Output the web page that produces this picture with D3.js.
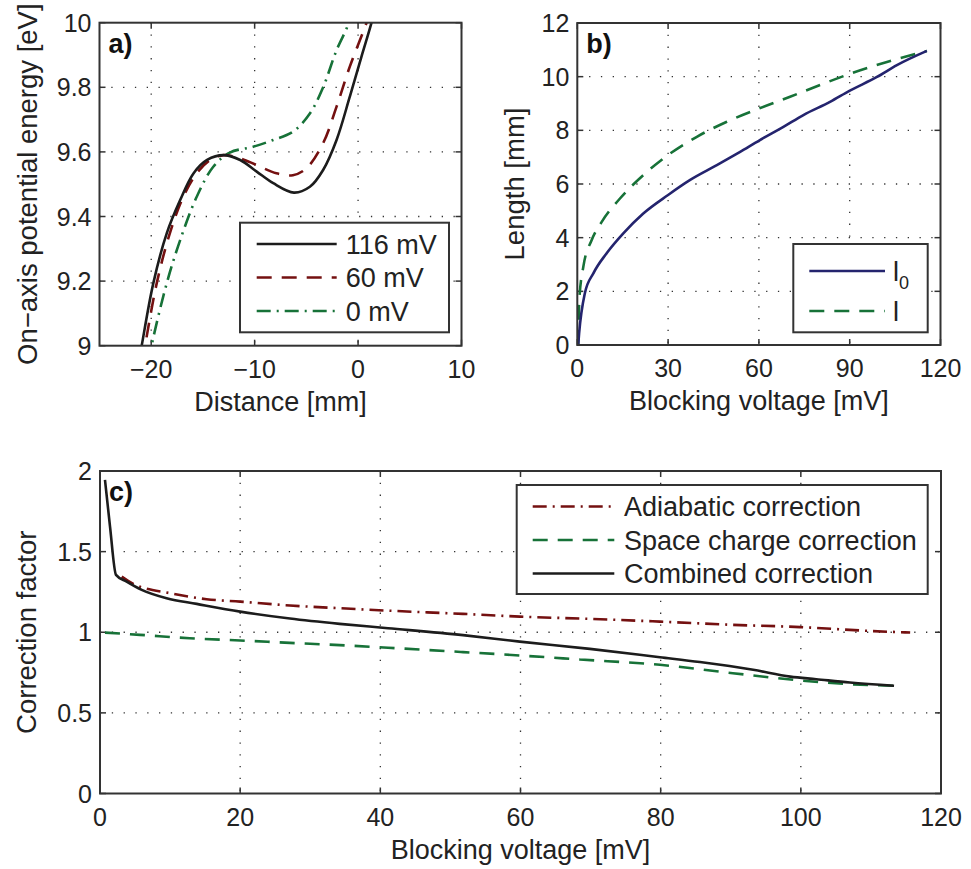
<!DOCTYPE html>
<html lang="en">
<head>
<meta charset="UTF-8">
<title>Blocking voltage panels</title>
<style>
  body { margin: 0; background: #fff; }
  svg text { font-family: "Liberation Sans", Arial, Helvetica, sans-serif; fill: #222; }
</style>
</head>
<body>
<div id="chart"></div>
<script src="https://d3js.org/d3.v7.min.js"></script>
<script>
// ---- panel a: on-axis potential energy vs distance ----
const pot116 = [[-21.2, 8.95], [-20.92, 9.0], [-19.8, 9.193], [-18.5, 9.348], [-17.2, 9.451], [-15.9, 9.534], [-14.6, 9.575],
  [-13.0, 9.59], [-11.4, 9.575], [-9.8, 9.539], [-8.2, 9.503], [-6.2, 9.474], [-4.66, 9.492], [-3.38, 9.544],
  [-2.08, 9.637], [-0.8, 9.771], [0.33, 9.895], [1.3, 10.0], [1.6, 10.04]];
const pot60 = [[-20.9, 8.95], [-20.6, 9.0], [-19.47, 9.193], [-18.2, 9.348], [-16.9, 9.461], [-15.6, 9.534], [-14.3, 9.575],
  [-13.0, 9.59], [-11.4, 9.58], [-9.8, 9.559], [-7.9, 9.534], [-6.3, 9.528], [-5.0, 9.549], [-3.38, 9.627],
  [-2.08, 9.74], [-0.8, 9.864], [0.82, 10.0], [1.1, 10.03]];
const pot0 = [[-20.2, 8.95], [-19.96, 9.0], [-18.5, 9.193], [-17.2, 9.327], [-15.6, 9.461], [-14.0, 9.554], [-12.4, 9.598],
  [-10.14, 9.616], [-8.2, 9.637], [-6.28, 9.663], [-4.66, 9.719], [-3.38, 9.80], [-2.08, 9.915], [-1.1, 9.983],
  [-0.95, 10.0], [-0.8, 10.02]];
const aXTicks = [-20, -10, 0, 10];
const aYTicks = [9, 9.2, 9.4, 9.6, 9.8, 10];
const aLegend = ["116 mV", "60 mV", "0 mV"];

// ---- panel b: length vs blocking voltage ----
const lenL0 = [[0.3, 0], [0.6, 0.43], [2.5, 1.93], [5.3, 2.67], [9.7, 3.42], [15.2, 4.16], [21.8, 4.9], [30, 5.59],
  [37.3, 6.15], [46.1, 6.7], [53.8, 7.2], [60.2, 7.63], [68.1, 8.13], [74.7, 8.57], [83.5, 9.06], [89.9, 9.47],
  [99, 9.99], [105.6, 10.43], [115.5, 10.96]];
const lenL = [[0.3, 0], [0.66, 1.68], [2.0, 2.92], [4.76, 3.91], [8.07, 4.59], [14.1, 5.46], [21.8, 6.33], [30, 7.08],
  [39.5, 7.76], [49.4, 8.32], [60.2, 8.82], [70.3, 9.25], [80.2, 9.69], [89.9, 10.1], [102.3, 10.55], [115.5, 10.96]];
const bXTicks = [0, 30, 60, 90, 120];
const bYTicks = [0, 2, 4, 6, 8, 10, 12];

// ---- panel c: correction factors ----
const corrAdiabatic = [[3.1, 1.345], [4.75, 1.30], [10, 1.242], [15.2, 1.205], [20, 1.19], [27.1, 1.166], [34.2, 1.149],
  [41.1, 1.134], [51.8, 1.114], [59.9, 1.097], [69.9, 1.083], [79.9, 1.066], [90.3, 1.046], [99.9, 1.032],
  [109.4, 1.009], [115.6, 0.998]];
const corrSpace = [[0.71, 0.998], [5.7, 0.984], [12.8, 0.963], [20, 0.949], [27.1, 0.934], [34.2, 0.92], [41.1, 0.904],
  [51.8, 0.877], [59.9, 0.856], [68.5, 0.831], [79.9, 0.798], [90.3, 0.746], [99.9, 0.701], [107, 0.678], [113.3, 0.668]];
const corrCombined = [[0.71, 1.945], [1.43, 1.655], [2.28, 1.356], [3.8, 1.314], [5.95, 1.263], [9.5, 1.211], [13.8, 1.176],
  [20, 1.128], [27.1, 1.085], [34.2, 1.052], [41.1, 1.025], [51.8, 0.982], [59.9, 0.942], [69.9, 0.897], [79.9, 0.845],
  [85.6, 0.815], [93.2, 0.767], [98.5, 0.725], [102.2, 0.709], [107, 0.688], [113.3, 0.668]];
const cXTicks = [0, 20, 40, 60, 80, 100, 120];
const cYTicks = [0, 0.5, 1, 1.5, 2];
const cLegend = ["Adiabatic correction", "Space charge correction", "Combined correction"];

const colBlack = "#1c1c1c", colRed = "#741010", colGreen = "#177238", colNavy = "#24246e";
const DASH = "15,10", DASHDOT = "14,6,2,6";

const svg = d3.select("#chart").append("svg")
  .attr("width", 971).attr("height", 869)
  .style("background", "#fff");

const fmt = v => (v < 0 ? "\u2212" + Math.abs(v) : String(v));

function makePanel(opt) {
  const x = d3.scaleLinear().domain(opt.xDomain).range([opt.left, opt.right]);
  const y = d3.scaleLinear().domain(opt.yDomain).range([opt.bottom, opt.top]);
  const g = svg.append("g");
  const clipId = "clip-" + opt.tag;
  svg.append("clipPath").attr("id", clipId).append("rect")
    .attr("x", opt.left).attr("y", opt.top)
    .attr("width", opt.right - opt.left).attr("height", opt.bottom - opt.top);

  // dotted grid
  g.selectAll(".gx").data(opt.xTicks.filter(t => t > opt.xDomain[0] && t < opt.xDomain[1])).join("line")
    .attr("x1", d => x(d)).attr("x2", d => x(d)).attr("y1", opt.top).attr("y2", opt.bottom)
    .attr("stroke", "#333").attr("stroke-width", 1.3).attr("stroke-dasharray", "1.3,10.5");
  g.selectAll(".gy").data(opt.yTicks.filter(t => t > opt.yDomain[0] && t < opt.yDomain[1])).join("line")
    .attr("y1", d => y(d)).attr("y2", d => y(d)).attr("x1", opt.left).attr("x2", opt.right)
    .attr("stroke", "#333").attr("stroke-width", 1.3).attr("stroke-dasharray", "1.3,10.5");

  // tick marks inward on all sides
  const tk = 6;
  opt.xTicks.forEach(t => {
    g.append("line").attr("x1", x(t)).attr("x2", x(t)).attr("y1", opt.bottom).attr("y2", opt.bottom - tk)
      .attr("stroke", "#333").attr("stroke-width", 1.5);
    g.append("line").attr("x1", x(t)).attr("x2", x(t)).attr("y1", opt.top).attr("y2", opt.top + tk)
      .attr("stroke", "#333").attr("stroke-width", 1.5);
  });
  opt.yTicks.forEach(t => {
    g.append("line").attr("y1", y(t)).attr("y2", y(t)).attr("x1", opt.left).attr("x2", opt.left + tk)
      .attr("stroke", "#333").attr("stroke-width", 1.5);
    g.append("line").attr("y1", y(t)).attr("y2", y(t)).attr("x1", opt.right).attr("x2", opt.right - tk)
      .attr("stroke", "#333").attr("stroke-width", 1.5);
  });

  // tick labels
  g.selectAll(".tx").data(opt.xTicks).join("text")
    .attr("x", d => x(d)).attr("y", opt.bottom + 32)
    .attr("text-anchor", "middle").attr("font-size", 25).text(fmt);
  g.selectAll(".ty").data(opt.yTicks).join("text")
    .attr("x", opt.left - 8).attr("y", d => y(d)).attr("dy", "0.36em")
    .attr("text-anchor", "end").attr("font-size", 25).text(fmt);

  // axis labels
  g.append("text").attr("x", (opt.left + opt.right) / 2).attr("y", opt.bottom + 65)
    .attr("text-anchor", "middle").attr("font-size", 27).text(opt.xLabel);
  g.append("text").attr("transform", `translate(${opt.yLabelX},${(opt.top + opt.bottom) / 2}) rotate(-90)`)
    .attr("dy", "0.36em").attr("text-anchor", "middle").attr("font-size", 27.5).text(opt.yLabel);

  // series
  const line = d3.line().curve(opt.curve).x(d => x(d[0])).y(d => y(d[1]));
  const plot = g.append("g").attr("clip-path", `url(#${clipId})`);
  opt.series.forEach(s => {
    plot.append("path").datum(s.data).attr("d", line)
      .attr("fill", "none").attr("stroke", s.color).attr("stroke-width", 2.6)
      .attr("stroke-dasharray", s.dash || null).attr("stroke-linejoin", "round");
  });

  // box
  g.append("rect").attr("x", opt.left).attr("y", opt.top)
    .attr("width", opt.right - opt.left).attr("height", opt.bottom - opt.top)
    .attr("fill", "none").attr("stroke", "#333").attr("stroke-width", 2);

  // panel tag
  g.append("text").attr("x", opt.left + 9).attr("y", opt.top + 30)
    .attr("font-size", 27).attr("font-weight", "bold").style("fill", "#111").text(opt.tag + ")");

  // legend
  const L = opt.legend;
  g.append("rect").attr("x", L.x0).attr("y", L.y0).attr("width", L.x1 - L.x0).attr("height", L.y1 - L.y0)
    .attr("fill", "#fff").attr("stroke", "#333").attr("stroke-width", 2);
  L.items.forEach((it, i) => {
    const ry = L.rowY + i * L.rowStep;
    g.append("line").attr("x1", L.lx0).attr("x2", L.lx1).attr("y1", ry).attr("y2", ry)
      .attr("stroke", it.color).attr("stroke-width", 2.6).attr("stroke-dasharray", it.dash || null);
    const t = g.append("text").attr("x", L.tx).attr("y", ry).attr("dy", "0.36em").attr("font-size", 27);
    if (it.sub) {
      t.append("tspan").text(it.label);
      t.append("tspan").attr("font-size", 18).attr("dy", "0.45em").text(it.sub);
    } else {
      t.text(it.label);
    }
  });
}

makePanel({
  tag: "a", left: 99.5, right: 461.5, top: 22.7, bottom: 345.7,
  xDomain: [-25, 10], yDomain: [9, 10], xTicks: aXTicks, yTicks: aYTicks,
  xLabel: "Distance [mm]", yLabel: "On\u2212axis potential energy [eV]", yLabelX: 27,
  curve: d3.curveCatmullRom,
  series: [
    { data: pot0, color: colGreen, dash: DASHDOT },
    { data: pot60, color: colRed, dash: DASH },
    { data: pot116, color: colBlack }
  ],
  legend: {
    x0: 240, x1: 449, y0: 222.7, y1: 332.3, lx0: 256.7, lx1: 336.7, tx: 345.7, rowY: 244, rowStep: 33.5,
    items: [
      { label: aLegend[0], color: colBlack },
      { label: aLegend[1], color: colRed, dash: DASH },
      { label: aLegend[2], color: colGreen, dash: DASHDOT }
    ]
  }
});

makePanel({
  tag: "b", left: 577.3, right: 940.5, top: 23, bottom: 345,
  xDomain: [0, 120], yDomain: [0, 12], xTicks: bXTicks, yTicks: bYTicks,
  xLabel: "Blocking voltage [mV]", yLabel: "Length [mm]", yLabelX: 514,
  curve: d3.curveMonotoneX,
  series: [
    { data: lenL, color: colGreen, dash: DASH },
    { data: lenL0, color: colNavy }
  ],
  legend: {
    x0: 793.3, x1: 927.7, y0: 244, y1: 332.3, lx0: 809.3, lx1: 885, tx: 893, rowY: 271, rowStep: 40,
    items: [
      { label: "l", sub: "0", color: colNavy },
      { label: "l", color: colGreen, dash: DASH }
    ]
  }
});

makePanel({
  tag: "c", left: 100, right: 941, top: 471, bottom: 793.5,
  xDomain: [0, 120], yDomain: [0, 2], xTicks: cXTicks, yTicks: cYTicks,
  xLabel: "Blocking voltage [mV]", yLabel: "Correction factor", yLabelX: 26,
  curve: d3.curveMonotoneX,
  series: [
    { data: corrAdiabatic, color: colRed, dash: DASHDOT },
    { data: corrSpace, color: colGreen, dash: DASH },
    { data: corrCombined, color: colBlack }
  ],
  legend: {
    x0: 516.7, x1: 927.7, y0: 485, y1: 594, lx0: 532.7, lx1: 614.3, tx: 624, rowY: 506.5, rowStep: 33.5,
    items: [
      { label: cLegend[0], color: colRed, dash: DASHDOT },
      { label: cLegend[1], color: colGreen, dash: DASH },
      { label: cLegend[2], color: colBlack }
    ]
  }
});
</script>
</body>
</html>
